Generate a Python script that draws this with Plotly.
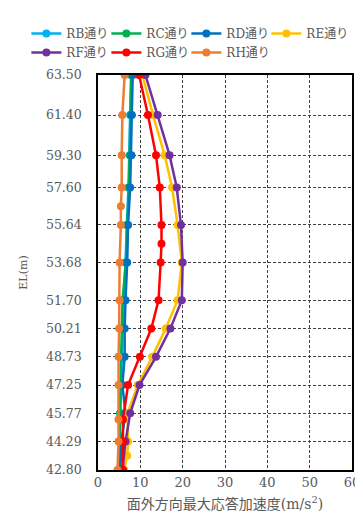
import plotly.graph_objects as go

# EL levels (m) used as y ticks
el_ticks = [63.50, 61.40, 59.30, 57.60, 55.64, 53.68, 51.70, 50.21, 48.73, 47.25, 45.77, 44.29, 42.80]
el_labels = ['63.50', '61.40', '59.30', '57.60', '55.64', '53.68', '51.70', '50.21', '48.73', '47.25', '45.77', '44.29', '42.80']

names = ['RB通り', 'RC通り', 'RD通り', 'RE通り', 'RF通り', 'RG通り', 'RH通り']
colors = ['#00B0F0', '#00B050', '#0070C0', '#FFC000', '#7030A0', '#FF0000', '#ED7D31']

rb_y = el_ticks
rb_x = [7.8, 7.6, 7.5, 7.2, 6.8, 6.5, 6.0, 5.8, 5.7, 5.4, 5.3, 5.1, 5.0]

rc_y = el_ticks
rc_x = [7.9, 7.7, 7.6, 7.3, 6.9, 6.6, 5.8, 5.6, 5.5, 5.3, 5.2, 5.0, 4.9]

rd_y = el_ticks
rd_x = [8.2, 8.0, 7.9, 7.6, 7.1, 6.9, 6.5, 6.3, 6.3, 5.75, 6.5, 5.5, 5.3]

re_y = [63.50, 61.40, 59.30, 57.60, 55.64, 53.68, 51.70, 50.21, 48.73, 47.25, 45.77, 44.29, 43.55, 42.80]
re_x = [10.5, 13.0, 15.75, 17.5, 18.8, 19.8, 18.8, 16.0, 12.8, 9.4, 7.0, 7.1, 6.9, 6.2]

rf_y = el_ticks
rf_x = [11.2, 14.1, 16.9, 18.6, 19.6, 20.0, 19.8, 17.1, 13.7, 9.8, 7.6, 6.5, 5.8]

rg_y = [63.50, 61.40, 59.30, 57.60, 55.64, 54.66, 53.68, 51.70, 50.21, 48.73, 47.25, 45.45, 44.29, 42.80]
rg_x = [9.7, 11.8, 13.7, 14.6, 15.0, 15.0, 14.8, 14.3, 12.6, 9.9, 7.1, 5.9, 5.9, 5.9]

rh_y = [63.50, 61.40, 59.30, 57.60, 56.62, 55.64, 53.68, 51.70, 50.21, 48.73, 47.25, 45.45, 44.29, 42.80]
rh_x = [6.3, 5.75, 5.6, 5.6, 5.4, 5.4, 5.1, 5.1, 5.0, 4.85, 4.85, 4.85, 4.85, 4.6]

series = [(rb_x, rb_y), (rc_x, rc_y), (rd_x, rd_y), (re_x, re_y),
          (rf_x, rf_y), (rg_x, rg_y), (rh_x, rh_y)]

font_main = 'DejaVu Serif, Noto Sans CJK JP'
grey = '#595959'

fig = go.Figure()
for (xs, ys), name, c in zip(series, names, colors):
    fig.add_trace(go.Scatter(x=xs, y=ys, mode='lines+markers', name=name,
                             line=dict(color=c, width=2.5),
                             marker=dict(color=c, size=8)))

fig.update_layout(
    width=363, height=516,
    margin=dict(l=90, r=11, t=66, b=54),
    paper_bgcolor='white', plot_bgcolor='white',
    font=dict(family=font_main, color=grey, size=12),
    showlegend=True,
    legend=dict(orientation='h',
                x=-0.282, y=1.02, xanchor='left', yanchor='bottom',
                entrywidth=35, itemwidth=30,
                font=dict(family=font_main, size=12, color=grey),
                tracegroupgap=0),
)
fig.update_xaxes(range=[0, 60], dtick=10, showgrid=True,
                 gridcolor='#404040', griddash='3px,2px', gridwidth=1,
                 showline=True, linecolor='black', linewidth=1.5, mirror=True,
                 zeroline=False, ticks='',
                 tickfont=dict(size=13),
                 title=dict(text='面外方向最大応答加速度(m/s<sup>2</sup>)',
                            font=dict(family=font_main, size=14, color=grey),
                            standoff=10))
fig.update_yaxes(range=[42.80, 63.50], tickvals=el_ticks, ticktext=el_labels,
                 showgrid=True, gridcolor='#404040', griddash='3px,2px', gridwidth=1,
                 showline=True, linecolor='black', linewidth=1.5, mirror=True,
                 zeroline=False, ticks='', ticklabelstandoff=12,
                 tickfont=dict(size=12.5),
                 title=dict(text='EL(m)', font=dict(family=font_main, size=11, color=grey),
                            standoff=16))

fig.write_html("out.html")
